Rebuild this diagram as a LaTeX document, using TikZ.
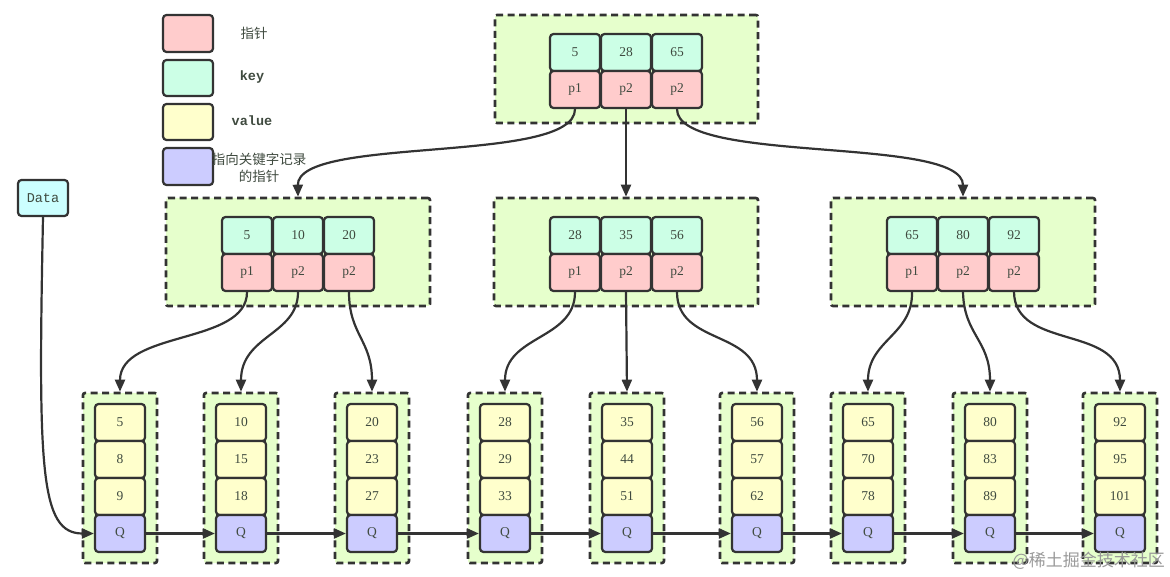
\documentclass[tikz,border=0pt]{standalone}
\usepackage{fontspec}
\setmainfont{Liberation Serif}
\newfontfamily\cjk{Noto Sans CJK SC}
\newfontfamily\monof{Liberation Mono}
\usetikzlibrary{arrows.meta}
\definecolor{ptrc}{HTML}{FFCCCC}
\definecolor{keyc}{HTML}{CCFFE6}
\definecolor{valc}{HTML}{FFFFCC}
\definecolor{recc}{HTML}{CCCCFF}
\definecolor{boxc}{HTML}{E6FFCC}
\definecolor{datac}{HTML}{CCFFFF}
\definecolor{linec}{HTML}{333333}
\definecolor{txtc}{HTML}{3F4A3F}
\tikzset{
  cell/.style={draw=linec, line width=2.2pt, rounded corners=3.5pt, minimum width=50pt, minimum height=37pt, inner sep=0pt, text=txtc, font=\fontsize{13.5}{15}\selectfont},
  keycell/.style={cell, fill=keyc},
  ptrcell/.style={cell, fill=ptrc},
  valcell/.style={cell, fill=valc},
  reccell/.style={cell, fill=recc},
  container/.style={draw=linec, fill=boxc, line width=2.6pt, dash pattern=on 7pt off 4.5pt, rounded corners=2pt, inner sep=0pt},
  arr/.style={draw=linec, line width=2.2pt, -{Triangle[length=12pt,width=10pt]}},
  lbl/.style={text=txtc, font=\fontsize{13.5}{17}\selectfont},
}
\begin{document}
\begin{tikzpicture}[x=1pt,y=-1pt]
\useasboundingbox (0,0) rectangle (1170,577);
% legend
\node[ptrcell, minimum height=37pt] (lg1) at (188,33.5) {};
\node[keycell, minimum height=36pt] (lg2) at (188,78) {};
\node[valcell, minimum height=36pt] (lg3) at (188,122) {};
\node[reccell, minimum height=37pt] (lg4) at (188,166.5) {};
\node[lbl] (lt1) at (254,33) {\cjk 指针};
\node[lbl] (lt2) at (252,77) {\monof\bfseries key};
\node[lbl] (lt3) at (252,121) {\monof\bfseries value};
\node[lbl, align=center, inner sep=0pt] (lt4) at (259,168) {\cjk 指向关键字记录\\\cjk 的指针};
% Data
\node[cell, fill=datac, minimum height=36pt] (data) at (43,198) {\monof Data};
% root
\node[container, minimum width=263pt, minimum height=108pt] (root) at (626.5,69) {};
\foreach \k/\x [count=\i] in {5/575,28/626,65/677} {
  \node[keycell] (rk\i) at (\x,52.5) {\k};
}
\foreach \p/\x [count=\i] in {p1/575,p2/626,p2/677} {
  \node[ptrcell] (rp\i) at (\x,89.5) {\p};
}
% level 2
\foreach \nm/\cx/\ka/\kb/\kc in {A/298/5/10/20, B/626/28/35/56, C/963/65/80/92} {
  \node[container, minimum width=264pt, minimum height=108pt] (\nm) at (\cx,252) {};
  \node[keycell] (\nm k1) at (\cx-51,235.5) {\ka};
  \node[keycell] (\nm k2) at (\cx,235.5) {\kb};
  \node[keycell] (\nm k3) at (\cx+51,235.5) {\kc};
  \node[ptrcell] (\nm p1) at (\cx-51,272.5) {p1};
  \node[ptrcell] (\nm p2) at (\cx,272.5) {p2};
  \node[ptrcell] (\nm p3) at (\cx+51,272.5) {p2};
}
% leaves
\foreach \x/\va/\vb/\vc [count=\i] in {120/5/8/9, 241/10/15/18, 372/20/23/27, 505/28/29/33, 627/35/44/51, 757/56/57/62, 868/65/70/78, 990/80/83/89, 1120/92/95/101} {
  \node[container, minimum width=74pt, minimum height=170pt] (leaf\i) at (\x,478) {};
  \node[valcell] (v\i a) at (\x,422.5) {\va};
  \node[valcell] (v\i b) at (\x,459.5) {\vb};
  \node[valcell] (v\i c) at (\x,496.5) {\vc};
  \node[reccell] (q\i) at (\x,533.5) {Q};
}
% root arrows
\draw[arr] (rp1.south) .. controls (575,165) and (297,135) .. (A.north);
\draw[arr] (rp2.south) -- (B.north);
\draw[arr] (rp3.south) .. controls (677,165) and (963,135) .. (C.north);
% level2 arrows
\draw[arr] (Ap1.south) .. controls (247,345) and (120,330) .. (leaf1.north);
\draw[arr] (Ap2.south) .. controls (298,335) and (241,335) .. (leaf2.north);
\draw[arr] (Ap3.south) .. controls (349,335) and (372,340) .. (leaf3.north);
\draw[arr] (Bp1.south) .. controls (575,340) and (505,335) .. (leaf4.north);
\draw[arr] (Bp2.south) -- (leaf5.north);
\draw[arr] (Bp3.south) .. controls (677,345) and (757,330) .. (leaf6.north);
\draw[arr] (Cp1.south) .. controls (913,335) and (868,340) .. (leaf7.north);
\draw[arr] (Cp2.south) .. controls (964,335) and (990,340) .. (leaf8.north);
\draw[arr] (Cp3.south) .. controls (1015,350) and (1120,325) .. (leaf9.north);
% linked list
\foreach \i [evaluate=\i as \j using int(\i+1)] in {1,...,8} {
  \draw[arr] (q\i.east) -- (q\j.west);
}
\draw[arr] (data.south) .. controls (38,470) and (40,533.5) .. (q1.west);
% watermark
\node[text=gray!80, font=\fontsize{17}{19}\selectfont, anchor=east, inner sep=0pt] (wm) at (1165,561) {\cjk @稀土掘金技术社区};
\end{tikzpicture}
\end{document}
